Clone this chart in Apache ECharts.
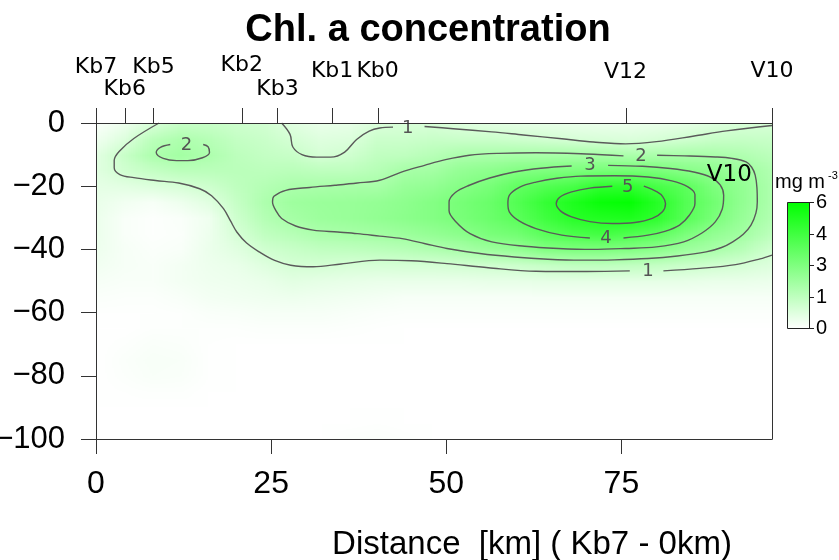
<!DOCTYPE html>
<html><head><meta charset="utf-8">
<script src="https://cdn.jsdelivr.net/npm/echarts@6/dist/echarts.min.js"></script>
<style>html,body{margin:0;padding:0;background:#fff}#c{width:839px;height:560px}</style>
</head><body><div id="c"></div>
<script>
// ---------- data ----------
const distances = [0,4,8,12,16,20,24,28,32,36,40,44,48,52,56,60,64,68,72,76,80,84,88,92,96];
const depths = [0,-5,-10,-15,-20,-25,-30,-35,-40,-45,-50,-55,-60,-65,-70,-75,-80,-85,-90,-95,-100];
const chl = [
 [0.1,0.4,0.9,1.3,1.3, 1.15,1.05,0.7,0.5,0.55, 0.85,0.9,0.9,0.75,0.65, 0.6,0.55,0.5,0.45,0.45, 0.5,0.6,0.75,0.9,0.95],
 [0.35,0.8,1.6,1.9,1.7, 1.4,1.25,1.0,0.75,0.8, 1.2,1.2,1.3,1.25,1.25, 1.15,1.05,0.95,0.9,0.85, 0.95,1.1,1.3,1.35,1.3],
 [0.65,1.3,1.9,2.15,1.9, 1.55,1.4,1.3,0.97,1.1, 1.45,1.5,1.7,1.95,2.0, 2.05,2.05,2.1,2.1,1.97, 2.0,2.05,2.0,1.85,1.6],
 [0.7,1.1,1.4,1.6,1.6, 1.6,1.55,1.6,1.5,1.5, 1.7,2.05,2.15,2.5,2.65, 2.9,3.0,3.05,3.15,3.2, 3.1,2.8,2.6,2.3,1.85],
 [0.6,0.65,0.8,0.95,1.15, 1.5,1.75,1.95,2.0,2.05, 2.05,2.4,2.55,2.85,3.15, 3.7,4.05,4.3,4.9,4.9, 4.3,3.85,3.05,2.55,1.95],
 [0.5,0.3,0.2,0.4,0.7, 1.35,1.9,2.25,2.35,2.4, 2.5,2.65,2.9,3.2,3.5, 4.05,4.75,5.3,5.8,5.9, 5.1,4.05,3.35,2.6,1.95],
 [0.45,0.15,0.05,0.12,0.35, 1.15,1.75,2.1,2.3,2.4, 2.55,2.7,2.9,3.15,3.45, 3.85,4.5,5.05,5.2,5.3, 4.9,3.95,3.15,2.45,1.85],
 [0.45,0.15,0.05,0.1,0.4, 0.95,1.45,1.7,1.95,2.05, 2.15,2.3,2.5,2.7,3.1, 3.3,3.85,4.2,4.4,4.1, 3.8,3.1,2.55,2.2,1.6],
 [0.4,0.2,0.1,0.15,0.45, 0.7,1.1,1.3,1.45,1.5, 1.6,1.7,1.85,2.05,2.3, 2.5,2.95,3.05,3.05,2.95, 2.7,2.3,2.05,1.7,1.15],
 [0.3,0.2,0.15,0.25,0.4, 0.5,0.75,1.0,1.02,0.95, 0.95,1.0,1.0,1.05,1.1, 1.2,1.35,1.45,1.5,1.45, 1.4,1.25,1.1,1.0,0.8],
 [0.2,0.15,0.15,0.25,0.35, 0.4,0.5,0.65,0.6,0.55, 0.5,0.5,0.5,0.5,0.55, 0.55,0.6,0.6,0.6,0.6, 0.6,0.55,0.5,0.5,0.45],
 [0.1,0.08,0.08,0.15,0.25, 0.3,0.35,0.4,0.35,0.3, 0.25,0.2,0.2,0.2,0.2, 0.2,0.2,0.2,0.2,0.2, 0.2,0.2,0.2,0.2,0.2],
 [0.03,0.03,0.03,0.05,0.12, 0.15,0.2,0.2,0.2,0.15, 0.1,0.08,0.08,0.08,0.08, 0.08,0.08,0.08,0.08,0.08, 0.08,0.08,0.08,0.08,0.08],
 [0,0,0.05,0.05,0.05, 0.05,0.08,0.08,0.08,0.05, 0.03,0,0,0,0, 0,0,0,0,0, 0,0,0,0,0],
 [0,0.05,0.12,0.1,0.03, 0,0,0,0,0, 0,0,0,0,0, 0,0,0,0,0, 0,0,0,0,0],
 [0,0.1,0.16,0.14,0.02, 0,0,0,0,0, 0,0,0,0,0, 0,0,0,0,0, 0,0,0,0,0],
 [0,0.08,0.14,0.12,0.02, 0,0,0,0,0, 0,0,0,0,0, 0,0,0,0,0, 0,0,0,0,0],
 [0,0.02,0.05,0.05,0, 0,0,0,0,0, 0,0,0,0,0, 0,0,0,0,0, 0,0,0,0,0],
 [0,0,0,0,0, 0,0,0,0,0, 0,0,0,0,0, 0,0,0,0,0, 0,0,0,0,0],
 [0,0,0,0,0, 0,0,0,0,0, 0.03,0,0,0,0, 0,0,0,0,0, 0,0,0,0,0],
 [0,0,0,0,0, 0,0,0,0,0.08, 0.1,0.05,0,0,0, 0,0,0,0,0, 0,0,0,0,0]
];

const stationNames = ['Kb7','Kb6','Kb5','Kb2','Kb3','Kb1','Kb0','V12','V10'];
const stationKm    = [0.0, 4.1, 8.2, 20.8, 25.9, 33.7, 40.2, 75.6, 96.5];
const insideLabelText = ['V10'];
const insideLabelPos  = [[90.4,-16.5]];

const xTickValues = [0,25,50,75];
const xMax = 96.5;
const colorMin = 0, colorMax = 6;
const colorbarLabels = ['6','4','3','1','0'];

// contour lines (km, depth m), split where labels sit
const contour1LowerA = [[9.0,0],[5.4,-4.9],[3.3,-9],[2.6,-11.8],[2.6,-14.2],[3.4,-16.3],[5.4,-17.3],[8.5,-18.2],[11.8,-19.0],[14.8,-20.8],[16.5,-23],[18.2,-27.1],[19.2,-31],[20.1,-34.5],[21.5,-38],[23.3,-40.8],[25.5,-43.5],[27.8,-45.0],[31.0,-45.5],[35,-44.6],[40.5,-43.4],[45,-43.6],[50.1,-44.5],[56,-45.8],[62.8,-46.9],[70,-47.0],[76.2,-46.8]];
const contour1LowerB = [[81.0,-46.8],[86.2,-46.0],[91.3,-44.8],[94.8,-43.0],[96.5,-41.8]];
const contour1UpperA = [[26.5,0],[27.7,-3.6],[28.1,-7.6],[29.4,-10.0],[31.5,-10.8],[33.5,-10.8],[35.5,-9.2],[37.2,-5.2],[39.0,-2.6],[40.5,-1.6],[42.4,-1.3]];
const contour1UpperB = [[46.9,-1.1],[51,-1.8],[56.5,-2.8],[61,-3.8],[66.5,-5.0],[71,-6.0],[75.6,-6.6],[80,-5.9],[85.2,-4.2],[90,-2.5],[96.5,-0.8]];
const contour2Small = [[10.6,-6.8],[9.2,-7.7],[8.6,-9.3],[9.6,-11.2],[11.5,-11.9],[13.1,-11.9],[15.2,-11.0],[16.2,-9.3],[16.0,-7.5],[15.3,-6.8]];
const contour2Big = [[75.3,-10.4],[70,-9.8],[62.8,-9.4],[57.5,-9.6],[53.3,-10.2],[49.9,-11.6],[46.9,-13.4],[43.5,-15.6],[40.5,-18.1],[37.3,-19.0],[34.1,-19.7],[30.5,-20.4],[27.1,-21.3],[25.4,-23.2],[25.2,-25.0],[25.7,-27.8],[26.5,-30.2],[28.5,-32.6],[31,-33.9],[34.5,-34.5],[37.3,-35.0],[40.5,-35.8],[43.7,-36.6],[47,-38.2],[50.1,-39.7],[54.8,-41.3],[59.7,-42.4],[64.5,-43.1],[69.2,-43.4],[74,-43.3],[78.8,-42.9],[83,-42.1],[87.1,-40.8],[89.3,-39.4],[90.9,-37.6],[92.4,-35.2],[93.5,-32.3],[94.2,-28.5],[94.4,-25.0],[94.35,-20.5],[94.1,-16.5],[93.6,-14.0],[92.8,-12.3],[90.8,-11.2],[88.4,-10.75],[84,-10.4],[80.1,-10.2]];
const contour3 = [[73.1,-13.4],[78,-13.7],[82,-14.4],[85.3,-15.5],[87.7,-17.1],[89.1,-19.6],[89.6,-22.9],[89.4,-27.2],[88.4,-31.3],[86.5,-34.8],[83.9,-37.6],[80,-39.2],[75.6,-39.7],[70.8,-40.0],[66,-39.7],[61.2,-39.0],[56.5,-37.6],[53.4,-35.0],[51.4,-31.3],[50.4,-27.8],[50.4,-25.0],[51.3,-22.0],[53.3,-19.7],[56.2,-17.4],[59.7,-15.5],[63.5,-14.3],[67.9,-13.6]];
const contour4 = [[70.5,-36.4],[66.5,-35.5],[62.8,-33.4],[60.4,-31.0],[59.0,-28.1],[58.8,-25.5],[59.0,-22.9],[60.5,-20.3],[62.8,-18.7],[65.8,-17.5],[69.2,-16.8],[74,-16.7],[78.8,-17.1],[82.2,-18.3],[84.5,-20.2],[85.5,-22.6],[85.5,-25.5],[84.7,-29.2],[83.3,-32.3],[81.2,-34.3],[78.8,-35.5],[75.3,-36.4]];
const contour5 = [[73.7,-20.0],[70.5,-20.6],[67.9,-21.8],[66.2,-23.5],[65.7,-25.5],[66.3,-27.8],[67.9,-29.7],[70.5,-31.2],[73.7,-31.8],[76.9,-31.5],[79.4,-30.2],[80.9,-28.0],[81.3,-25.5],[80.9,-23.3],[80.1,-21.8],[78.2,-20.0]];
const contourLabelText = ['1','1','2','2','3','4','5'];
const contourLabelPos  = [[44.5,-1.7],[78.8,-46.8],[12.9,-7.0],[77.8,-10.7],[70.5,-13.4],[72.8,-36.4],[75.9,-20.2]];

// ---------- styling (not data) ----------
const stationLift = [56,34,56,58,34,52,52,51,52];
const colorLow = [255,255,255], colorHigh = [0,255,0];
const sansFont = "'Liberation Sans', Arial, sans-serif";
const dejaFont = "'DejaVu Sans', sans-serif";

function chlRGB(v){
  const t = Math.max(0, Math.min(1, (v - colorMin) / (colorMax - colorMin)));
  return colorLow.map((c,i)=>Math.round(c + (colorHigh[i]-c)*t));
}
let raster = null;
function getRaster(){
  if (raster) return raster;
  const cv = document.createElement('canvas');
  cv.width = distances.length; cv.height = depths.length;
  const ctx = cv.getContext('2d');
  const img = ctx.createImageData(cv.width, cv.height);
  for (let r=0;r<depths.length;r++) for (let c=0;c<distances.length;c++){
    const rgb = chlRGB(chl[r][c]); const k = (r*cv.width + c)*4;
    img.data[k]=rgb[0]; img.data[k+1]=rgb[1]; img.data[k+2]=rgb[2]; img.data[k+3]=255;
  }
  ctx.putImageData(img,0,0);
  raster = cv; return cv;
}
const cells = [];
depths.forEach((d,r)=>distances.forEach((x,c)=>cells.push([x,d,chl[r][c]])));
const dx = distances[1]-distances[0], dy = depths[0]-depths[1];

const chart = echarts.init(document.getElementById('c'), null, {renderer:'canvas', width:839, height:560});

const lineStyle = {color:'#5a5a5a', width:1.4};
const contourSets = [contour1LowerA, contour1LowerB, contour1UpperA, contour1UpperB, contour2Small, contour2Big, contour3, contour4, contour5];
const contourSeries = contourSets.map(pts => ({
  type:'line', data: pts, smooth: 0.35, symbol:'none', silent:true, z:4,
  lineStyle: lineStyle, animation:false, clip:true
}));

const axisLineStyle = {color:'#333', width:1};
const cbX = 787, cbY = 202, cbW = 22, cbH = 126;
const graphics = [
  {type:'rect', shape:{x:cbX+0.5, y:cbY+0.5, width:cbW, height:cbH},
   style:{fill:new echarts.graphic.LinearGradient(0,0,0,1,[{offset:0,color:'rgb('+colorHigh.join(',')+')'},{offset:1,color:'rgb('+colorLow.join(',')+')'}]), stroke:'#222', lineWidth:1}},
  {type:'text', x:775, y:182, style:{text:'mg m', fontSize:20, fontFamily:sansFont, fill:'#000', verticalAlign:'middle'}},
  {type:'text', x:828, y:176, style:{text:'-3', fontSize:11, fontFamily:sansFont, fill:'#000', verticalAlign:'middle'}}
];
colorbarLabels.forEach((lab,i)=>{
  const y = Math.round(cbY + cbH*i/(colorbarLabels.length-1)) + 0.5;
  graphics.push({type:'line', shape:{x1:cbX+cbW, y1:y, x2:cbX+cbW+5, y2:y}, style:{stroke:'#222', lineWidth:1}});
  graphics.push({type:'text', x:cbX+cbW+7, y:y, style:{text:lab, fontSize:20, fontFamily:sansFont, fill:'#000', verticalAlign:'middle'}});
});

const option = {
  animation:false,
  backgroundColor:'#fff',
  title:{text:'Chl. a concentration', left:428, top:12, padding:0, textAlign:'center',
    textStyle:{fontSize:38, fontWeight:'bold', fontFamily:sansFont, color:'#000'}},
  grid:{left:96, top:123, width:676, height:316, outerBoundsMode:'none', containLabel:false},
  xAxis:[{
    type:'value', min:0, max:xMax, position:'bottom', z:10,
    axisLine:{show:true, onZero:false, lineStyle:axisLineStyle},
    axisTick:{show:true, length:15, lineStyle:axisLineStyle, customValues:xTickValues},
    axisLabel:{fontSize:32, fontFamily:sansFont, color:'#000', margin:29, customValues:xTickValues},
    splitLine:{show:false},
    name:'Distance  [km] ( Kb7 - 0km)', nameLocation:'middle', nameGap:89,
    nameTextStyle:{fontSize:33, fontFamily:sansFont, color:'#000', padding:[0,0,0,196]}
  },{
    type:'value', min:0, max:xMax, position:'top', z:10,
    axisLine:{show:true, onZero:false, lineStyle:axisLineStyle},
    axisTick:{show:false}, axisLabel:{show:false}, splitLine:{show:false}
  }],
  yAxis:[{
    type:'value', min:-100, max:0, interval:20, z:10,
    axisLine:{show:true, onZero:false, lineStyle:axisLineStyle},
    axisTick:{show:true, length:15, lineStyle:axisLineStyle},
    axisLabel:{fontSize:31, fontFamily:sansFont, color:'#000', margin:31,
      formatter:v=> v<0 ? '\u2212'+Math.abs(v) : String(v)},
    splitLine:{show:false}
  },{
    type:'value', min:-100, max:0, position:'right', z:10,
    axisLine:{show:true, onZero:false, lineStyle:axisLineStyle},
    axisTick:{show:false}, axisLabel:{show:false}, splitLine:{show:false}
  }],
  graphic: graphics,
  series:[
    {
      type:'custom', name:'Chl a', data:cells, z:1, silent:true,
      renderItem:(params, api)=>{
        if (params.dataIndex !== 0) return null;
        const p0 = api.coord([distances[0]-dx/2, depths[0]+dy/2]);
        const p1 = api.coord([distances[distances.length-1]+dx/2, depths[depths.length-1]-dy/2]);
        const cs = params.coordSys;
        return {type:'image', silent:true,
          style:{image:getRaster(), x:p0[0], y:p0[1], width:p1[0]-p0[0], height:p1[1]-p0[1]},
          clipPath:{type:'rect', shape:{x:cs.x, y:cs.y, width:cs.width, height:cs.height}}};
      }
    },
    ...contourSeries,
    {
      type:'custom', name:'contour labels', data:contourLabelPos, z:5, silent:true,
      renderItem:(params, api)=>{
        const p = api.coord([api.value(0), api.value(1)]);
        return {type:'text', x:p[0], y:p[1], style:{text:contourLabelText[params.dataIndex], fill:'#555',
          fontSize:18, fontFamily:dejaFont, align:'center', verticalAlign:'middle'}};
      }
    },
    {
      type:'custom', name:'inside labels', data:insideLabelPos, z:6, silent:true,
      renderItem:(params, api)=>{
        const p = api.coord([api.value(0), api.value(1)]);
        return {type:'text', x:p[0], y:p[1], style:{text:insideLabelText[params.dataIndex], fill:'#000',
          fontSize:23, fontFamily:dejaFont, align:'center', verticalAlign:'middle'}};
      }
    },
    {
      type:'custom', name:'stations', data:stationKm.map(k=>[k,0]), z:6, silent:true, clip:false,
      renderItem:(params, api)=>{
        const i = params.dataIndex;
        const p = api.coord([api.value(0), 0]);
        const xx = Math.round(p[0]) + 0.5;
        return {type:'group', children:[
          {type:'line', shape:{x1:xx, y1:p[1], x2:xx, y2:p[1]-15}, style:{stroke:'#333', lineWidth:1}},
          {type:'text', x:p[0], y:p[1]-stationLift[i], style:{text:stationNames[i], fill:'#000',
            fontSize:22, fontFamily:dejaFont, align:'center', verticalAlign:'middle'}}
        ]};
      }
    }
  ]
};
chart.setOption(option);
</script>
</body></html>
